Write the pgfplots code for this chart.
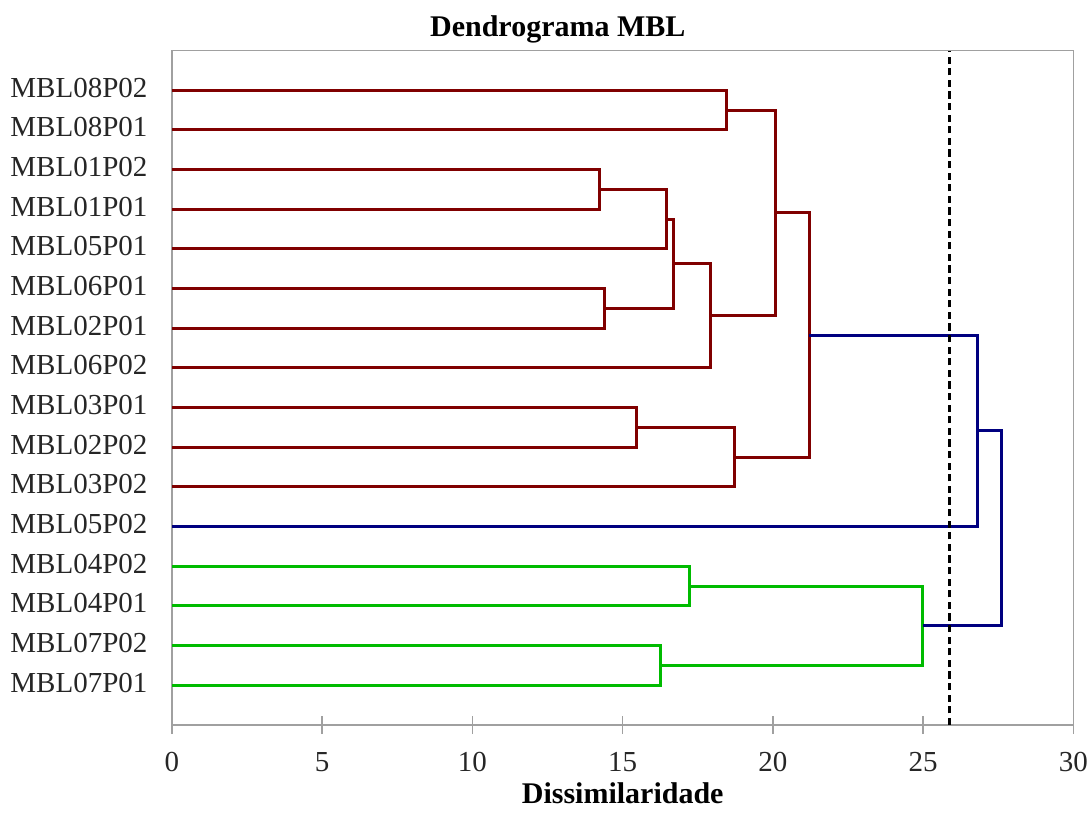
\documentclass[border=0pt]{standalone}
\usepackage{pgfplots}
\pgfplotsset{compat=1.18}
\usepackage{fontspec}
\setmainfont{Liberation Serif}
\definecolor{dred}{RGB}{128,0,0}
\definecolor{dgreen}{RGB}{0,187,0}
\definecolor{dblue}{RGB}{0,0,128}
\definecolor{axgray}{RGB}{160,160,160}
\begin{document}
\begin{tikzpicture}
\begin{axis}[
  scale only axis,
  width=450.7pt, height=337.2pt,
  xmin=0, xmax=30, ymin=0, ymax=17,
  clip=false,
  axis line style={axgray, line width=0.8pt},
  xtick={0,5,...,30},
  xtick pos=bottom,
  ytick pos=left,
  tick align=center,
  major tick length=9pt,
  xtick style={axgray, line width=0.8pt},
  ytick={1,...,16},
  yticklabels={MBL07P01,MBL07P02,MBL04P01,MBL04P02,MBL05P02,MBL03P02,MBL02P02,MBL03P01,MBL06P02,MBL02P01,MBL06P01,MBL05P01,MBL01P01,MBL01P02,MBL08P01,MBL08P02},
  ytick style={draw=none},
  /pgf/number format/assume math mode=true,
  tick label style={font=\fontsize{14.5pt}{17pt}\selectfont, color=black!85},
  yticklabel style={inner sep=0pt, anchor=east, xshift=-7.6pt},
  xticklabel style={anchor=base, inner sep=0pt, yshift=-18.5pt},
  typeset ticklabels with strut=false,
  every axis title shift=0pt,
  xlabel={Dissimilaridade},
  xlabel style={at={(axis description cs:0.5,0)}, anchor=base, yshift=-39pt, font=\fontsize{15pt}{18pt}\selectfont\bfseries, inner sep=0pt},
  title={Dendrograma MBL},
  title style={at={(axis description cs:0.428,1)}, anchor=base, yshift=6.85pt, font=\fontsize{15pt}{18pt}\selectfont\bfseries, inner sep=0pt},
  every axis plot/.append style={line width=1.5pt, line join=miter},
]
% red cluster
\addplot[dred] coordinates {(0,16) (18.44,16) (18.44,15) (0,15)};
\addplot[dred] coordinates {(0,14) (14.23,14) (14.23,13) (0,13)};
\addplot[dred] coordinates {(14.23,13.5) (16.47,13.5) (16.47,12) (0,12)};
\addplot[dred] coordinates {(0,11) (14.39,11) (14.39,10) (0,10)};
\addplot[dred] coordinates {(16.47,12.75) (16.68,12.75) (16.68,10.5) (14.39,10.5)};
\addplot[dred] coordinates {(16.68,11.625) (17.91,11.625) (17.91,9) (0,9)};
\addplot[dred] coordinates {(18.44,15.5) (20.09,15.5) (20.09,10.3125) (17.91,10.3125)};
\addplot[dred] coordinates {(0,8) (15.45,8) (15.45,7) (0,7)};
\addplot[dred] coordinates {(15.45,7.5) (18.72,7.5) (18.72,6) (0,6)};
\addplot[dred] coordinates {(20.09,12.90625) (21.21,12.90625) (21.21,6.75) (18.72,6.75)};
% blue links
\addplot[dblue] coordinates {(21.21,9.828125) (26.80,9.828125) (26.80,5) (0,5)};
% green cluster
\addplot[dgreen] coordinates {(0,4) (17.22,4) (17.22,3) (0,3)};
\addplot[dgreen] coordinates {(0,2) (16.26,2) (16.26,1) (0,1)};
\addplot[dgreen] coordinates {(17.22,3.5) (24.99,3.5) (24.99,1.5) (16.26,1.5)};
% top blue link
\addplot[dblue] coordinates {(26.80,7.4140625) (27.62,7.4140625) (27.62,2.5) (24.99,2.5)};
% cut line
\addplot[black, line width=1.3pt, dash pattern=on 3.6pt off 2.2pt] coordinates {(25.87,0) (25.87,17)};
\end{axis}
\pgfresetboundingbox
\useasboundingbox ([xshift=-86pt,yshift=-47pt]current axis.south west) rectangle ([xshift=460pt,yshift=362.5pt]current axis.south west);
\end{tikzpicture}
\end{document}
